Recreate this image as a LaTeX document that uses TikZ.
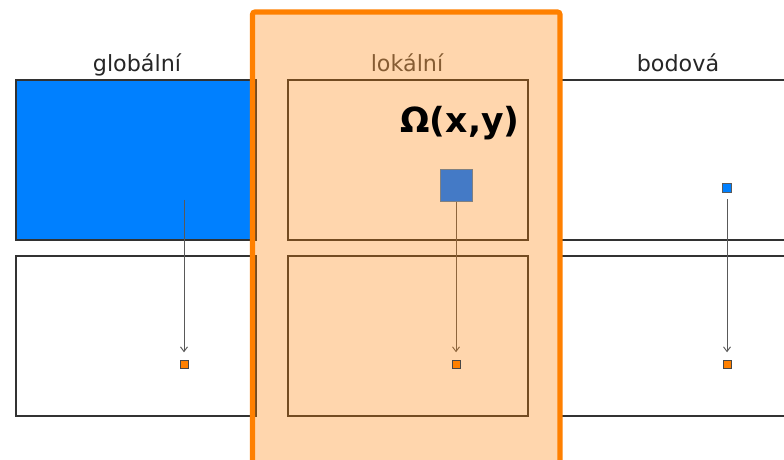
\documentclass[tikz,border=0pt]{standalone}
\usepackage{fontspec}
\setmainfont{DejaVu Sans}
\usetikzlibrary{arrows.meta}
\definecolor{modra}{RGB}{0,128,255}
\definecolor{tlumena}{RGB}{68,122,198}
\definecolor{oranz}{RGB}{255,128,0}
\definecolor{cara}{RGB}{50,50,50}
\begin{document}
\begin{tikzpicture}[x=0.03cm, y=-0.03cm,
    box/.style={draw=cara, line width=1.2pt},
    src/.style={draw=cara!80, fill=modra, inner sep=0pt, minimum size=0.27cm, line width=0.5pt},
    dst/.style={draw=cara!90, fill=oranz, inner sep=0pt, minimum size=0.24cm, line width=0.7pt},
    tok/.style={-{Straight Barb[length=4pt, width=6pt]}, draw=gray!70!black, line width=0.8pt, shorten >=0.22cm},
    lbl/.style={font=\fontsize{19}{22}\selectfont, text=black!85, anchor=base}]
    \useasboundingbox (0,0) rectangle (784,460);
    \clip (0,0) rectangle (784,460);

    % globalni
    \draw[box, fill=modra] (16,80) rectangle (256,240);
    \draw[box] (16,256) rectangle (256,416);
    % lokalni
    \draw[box] (288,80) rectangle (528,240);
    \draw[box] (288,256) rectangle (528,416);
    % bodova
    \draw[box] (560,80) rectangle (800,240);
    \draw[box] (560,256) rectangle (800,416);

    \node[lbl] (glob) at (137,72) {globální};
    \node[lbl, text=black!70] (lok) at (407,72) {lokální};
    \node[lbl] (bod) at (678,72) {bodová};

    \coordinate (gsrc) at (184,200);
    \node[src, minimum size=0.96cm, fill=tlumena, draw=gray] (lsrc) at (456,185) {};
    \node[src] (bsrc) at (727,188) {};

    \node[dst] (gdst) at (184,364) {};
    \node[dst] (ldst) at (456,364) {};
    \node[dst] (bdst) at (727,364) {};

    \draw[tok] (gsrc) -- (gdst);
    \draw[tok] (lsrc) -- (ldst);
    \draw[tok, shorten <=0.2cm] (bsrc) -- (bdst);

    % okno
    \draw[oranz, line width=4.3pt, fill=oranz, fill opacity=0.32, rounded corners=2pt]
        (252.5,12) rectangle (560,490);

    \node[src, minimum size=0.96cm, fill=tlumena, draw=gray] at (lsrc) {};
    \node[dst] at (ldst) {};
    \node[font=\fontsize{29.5}{34}\selectfont\bfseries, anchor=base] (omega) at (460,133) {Ω(x,y)};
\end{tikzpicture}
\end{document}
